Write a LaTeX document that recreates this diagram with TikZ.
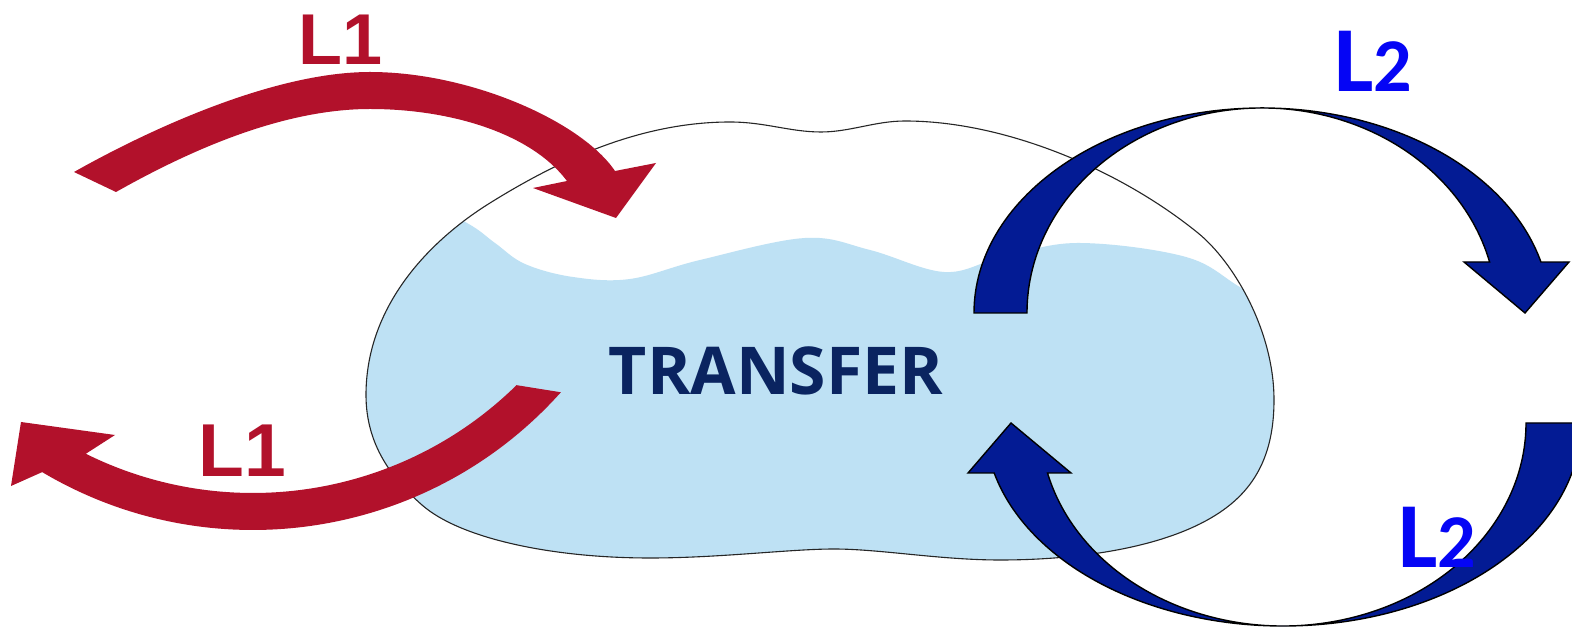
\documentclass[tikz,border=0pt]{standalone}
\usepackage{fontspec}
\usetikzlibrary{calc}
\newfontfamily\lfont{Liberation Sans}
\newfontfamily\cfont{Carlito}
\newfontfamily\ofont{Open Sans}
\definecolor{l1red}{RGB}{178,17,43}
\definecolor{l2arrow}{RGB}{3,27,148}
\definecolor{l2text}{RGB}{5,5,245}
\definecolor{water}{RGB}{190,225,244}
\definecolor{navy}{RGB}{10,36,96}
\begin{document}
\begin{tikzpicture}[x=1pt,y=1pt,
  redarrow/.style={fill=l1red},
  bluearrow/.style={fill=l2arrow,draw=black,line width=1.4pt,line join=miter},
  blobline/.style={draw=black!85,line width=1.1pt},
  lonelabel/.style={inner sep=0pt,anchor=base,text=l1red,font=\lfont\bfseries},
  ltwolabel/.style={inner sep=0pt,anchor=base,text=l2text,font=\cfont\bfseries},
  centerlabel/.style={inner sep=0pt,anchor=base,text=navy,font=\ofont\bfseries\fontsize{66}{66}\selectfont}]
\useasboundingbox (0,0) rectangle (1572,629);
\clip (0,0) rectangle (1572,629);
\fill[white] (0,0) rectangle (1572,629);

% water inside the blob
\begin{scope}
  \clip (366,234) .. controls (366,324) and (430.5,389) .. (490,426)
    .. controls (558,468.4) and (640,507) .. (730,507)
    .. controls (765,507) and (790,497) .. (821,497)
    .. controls (850,497) and (875,508) .. (905,508)
    .. controls (1005,508) and (1120.5,459) .. (1198,396)
    .. controls (1233,367.6) and (1274,299) .. (1274,229)
    .. controls (1274,179) and (1258,145) .. (1226,121)
    .. controls (1170,79) and (1070,69) .. (1000,69)
    .. controls (940,69) and (880,80) .. (834,80)
    .. controls (790,80) and (720,71) .. (650,71)
    .. controls (550,71) and (459.5,91) .. (422,124)
    .. controls (392,150.4) and (366,184) .. (366,234) -- cycle;
  \fill[water] plot[smooth, tension=0.6] coordinates {(400,440) (467,406) (495,386) (525,365) (573,352) (630,350) (700,369) (805,391) (870,379) (944,357) (1000,371) (1077,386) (1186,372) (1245,339) (1320,300)} -- (1320,0) -- (300,0) -- (300,440) -- cycle;
\end{scope}
% blob outline
\draw[blobline] (366,234) .. controls (366,324) and (430.5,389) .. (490,426)
    .. controls (558,468.4) and (640,507) .. (730,507)
    .. controls (765,507) and (790,497) .. (821,497)
    .. controls (850,497) and (875,508) .. (905,508)
    .. controls (1005,508) and (1120.5,459) .. (1198,396)
    .. controls (1233,367.6) and (1274,299) .. (1274,229)
    .. controls (1274,179) and (1258,145) .. (1226,121)
    .. controls (1170,79) and (1070,69) .. (1000,69)
    .. controls (940,69) and (880,80) .. (834,80)
    .. controls (790,80) and (720,71) .. (650,71)
    .. controls (550,71) and (459.5,91) .. (422,124)
    .. controls (392,150.4) and (366,184) .. (366,234) -- cycle;

% red arrows
\coordinate (c2) at (253,512);
\fill[redarrow] (74,457) .. controls (152.3,501.1) and (275,557) .. (370,557)
  .. controls (470,557) and (581.3,507.7) .. (615,458)
  -- (656,466) -- (616,411) -- (533,441) -- (567,448)
  .. controls (531,496) and (450,520) .. (370,520)
  .. controls (280,520) and (185.6,476.2) .. (116,437) -- cycle;
\fill[redarrow] ($(c2)+(-41.8:413)$) arc[start angle=-41.8, end angle=-120.7, radius=413pt]
  -- (11,143) -- (21,207) -- (115,194) -- ($(c2)+(-116.4:376)$)
  arc[start angle=-116.4, end angle=-45.5, radius=376pt] -- cycle;

% blue arrows
\filldraw[bluearrow] (974,316) arc[start angle=180, end angle=14.4, x radius=288pt, y radius=205pt]
  -- (1569,367) -- (1525,316) -- (1464,367) -- (1489.6,367)
  arc[start angle=14.4, end angle=180, x radius=235pt, y radius=205pt] -- cycle;
\filldraw[bluearrow] (1581,206) arc[start angle=0, end angle=-165.74, x radius=298pt, y radius=203pt]
  -- (968,156) -- (1011,206) -- (1071,156) -- (1047.5,156)
  arc[start angle=-165.74, end angle=0, x radius=243pt, y radius=203pt] -- cycle;

% labels
\node[lonelabel,font=\lfont\bfseries\fontsize{72}{72}\selectfont] (l1top) at (340.5,564) {L1};
\node[lonelabel,font=\lfont\bfseries\fontsize{75}{75}\selectfont] (l1bot) at (242,152) {L1};
\node[ltwolabel] (l2top) at (1373,537) {{\fontsize{93}{93}\selectfont L}{\fontsize{76}{76}\selectfont 2}};
\node[ltwolabel] (l2bot) at (1437,61) {{\fontsize{93}{93}\selectfont L}{\fontsize{76}{76}\selectfont 2}};
\node[centerlabel] (transfer) at (776,234) {TRANSFER};
\end{tikzpicture}
\end{document}
